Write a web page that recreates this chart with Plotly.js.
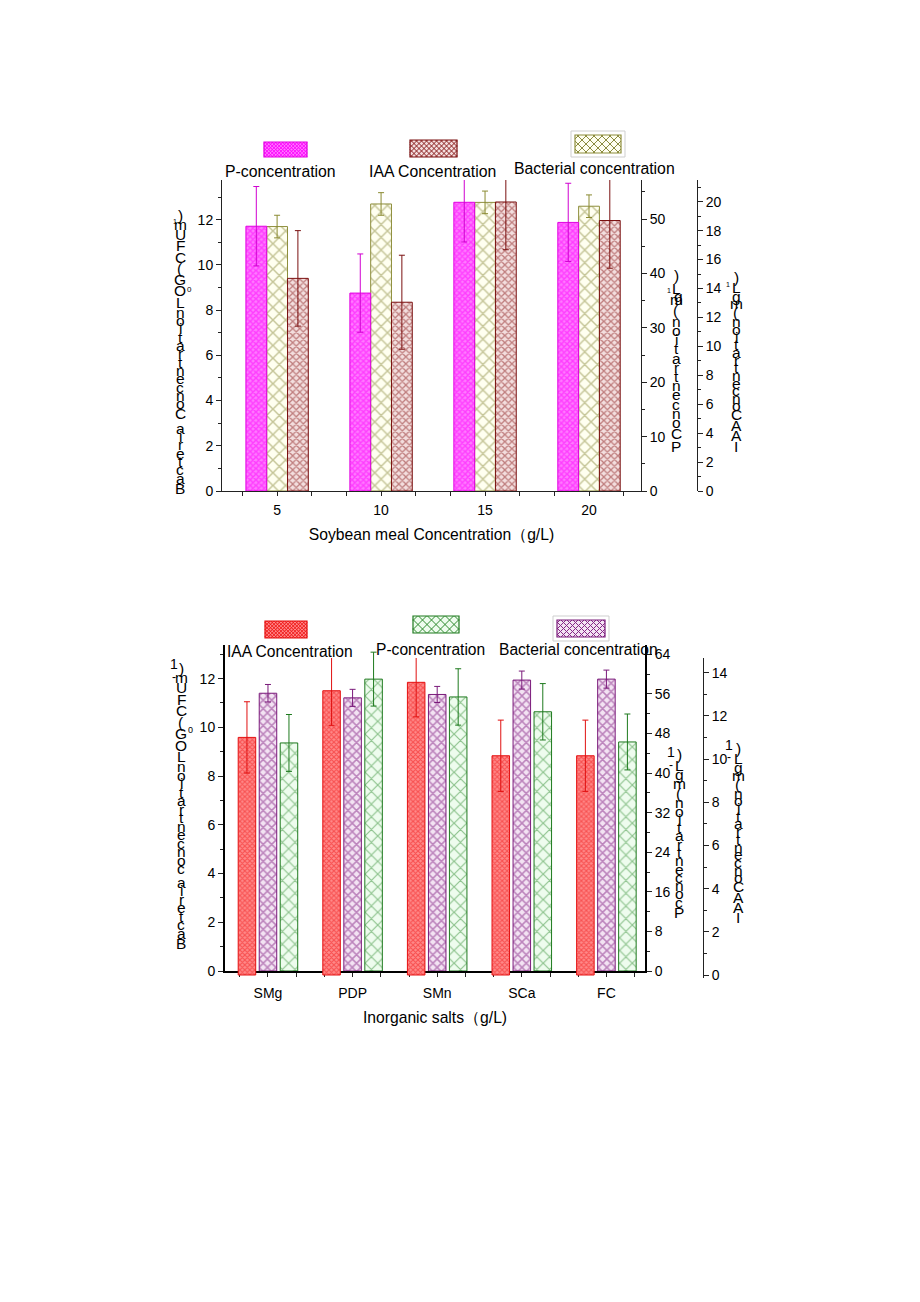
<!DOCTYPE html>
<html><head><meta charset="utf-8">
<script src="https://cdn.plot.ly/plotly-3.0.1.min.js"></script>
<style>html,body{margin:0;padding:0;background:#fff}</style>
</head><body><div id="chart" style="width:920px;height:1302px"></div>
<script>
// ---------- data: chart 1 (soybean meal) ----------
const soyCategories = ['5', '10', '15', '20'];
const soyP = [48.7, 36.4, 53.1, 49.4];          // P-concentration (mg L-1)
const soyPErr = [7.3, 7.2, 7.3, 7.2];
const soyBact = [11.7, 12.7, 12.77, 12.6];      // Bacterial concentration (LOG CFU mL-1)
const soyBactErr = [0.5, 0.5, 0.5, 0.5];
const soyIAA = [14.7, 13.05, 19.98, 18.7];      // IAA Concentration (mg L-1)
const soyIAAErr = [3.3, 3.25, 3.3, 3.3];

// ---------- data: chart 2 (inorganic salts) ----------
const saltCategories = ['SMg', 'PDP', 'SMn', 'SCa', 'FC'];
const saltIAA = [11.0, 13.16, 13.55, 10.15, 10.15];
const saltIAAErr = [1.65, 1.6, 1.6, 1.65, 1.65];
const saltBact = [11.4, 11.21, 11.35, 11.94, 11.98];
const saltBactErr = [0.36, 0.35, 0.33, 0.37, 0.37];
const saltP = [46.1, 59.0, 55.4, 52.4, 46.3];
const saltPErr = [5.75, 5.45, 5.7, 5.7, 5.65];

// legend labels and (stacked, glyph-by-glyph) axis titles as printed
const soyLegend = ['P-concentration', 'IAA Concentration', 'Bacterial concentration'];
const saltLegend = ['IAA Concentration', 'P-concentration', 'Bacterial concentration'];
const soyXTitle = 'Soybean meal Concentration（g/L)';
const saltXTitle = 'Inorganic salts（g/L)';
const bactTitle1 = 'Bacteria ConcentrationLOG(CFUm)';
const bactTitle2 = 'Bacteria concentrationLOG(CFUm)';
const pTitle1 = 'PConcentration(mL)';
const pTitle2 = 'Pconcentration(mgL)';
const iaaTitle = 'IAAConcentration(mgL)';

// ---------- helpers ----------
const W = 920, H = 1302;
const px = x => x / W;
const py = y => 1 - y / H;
const FONT = 'Liberation Sans, Arial, sans-serif';

const idx1 = soyCategories.map((_, i) => i);
const idx2 = saltCategories.map((_, i) => i);

const styles = {
  pink:   {line: '#e000e0', bg: '#ff7aff', fg: '#ff00ff', size: 4, sol: 0.6, err: '#d000d0'},
  khaki:  {line: '#8e8e3c', bg: '#fffff0', fg: '#8c8c40', size: 9, sol: 0.3, err: '#8a8a30'},
  brown:  {line: '#7a1010', bg: '#f3dede', fg: '#8b1e1e', size: 5, sol: 0.45, err: '#7a1010'},
  red:    {line: '#e41010', bg: '#ff8a8a', fg: '#f01818', size: 3.5, sol: 0.55, err: '#e01010'},
  purple: {line: '#7a1a7a', bg: '#f3e3f3', fg: '#862686', size: 6, sol: 0.45, err: '#7a1a7a'},
  green:  {line: '#1e7a1e', bg: '#eefcee', fg: '#2e8b2e', size: 9, sol: 0.25, err: '#1e7a1e'}
};

function barTrace(name, xs, ys, errs, st, xa, ya, width, offset) {
  return {
    type: 'bar', name: name, x: xs, y: ys, xaxis: xa, yaxis: ya,
    width: width, offset: offset, showlegend: false,
    marker: {color: st.bg, line: {color: st.line, width: 1},
      pattern: {shape: 'x', fgcolor: st.fg, bgcolor: st.bg, size: st.size, solidity: st.sol, fillmode: 'overlay'}},
    error_y: {type: 'data', array: errs, visible: true, color: st.err, thickness: 1, width: 3}
  };
}

const data = [
  barTrace(soyLegend[0], idx1, soyP, soyPErr, styles.pink, 'x', 'y2', 0.2, -0.3),
  barTrace(soyLegend[2], idx1, soyBact, soyBactErr, styles.khaki, 'x', 'y', 0.2, -0.1),
  barTrace(soyLegend[1], idx1, soyIAA, soyIAAErr, styles.brown, 'x', 'y3', 0.2, 0.1),
  barTrace(saltLegend[0], idx2, saltIAA, saltIAAErr, styles.red, 'x3', 'y6', 0.207, -0.352),
  barTrace(saltLegend[2], idx2, saltBact, saltBactErr, styles.purple, 'x2', 'y4', 0.207, -0.1035),
  barTrace(saltLegend[1], idx2, saltP, saltPErr, styles.green, 'x2', 'y5', 0.207, 0.1445)
];

const tickfont = {family: FONT, size: 14, color: '#000'};
const titlefont = {family: FONT, size: 15.7, color: '#000'};

function yAx(o) {
  return Object.assign({
    showgrid: false, zeroline: false, showline: true, linecolor: '#222', linewidth: 1,
    ticks: 'outside', ticklen: 5, tickwidth: 1, tickcolor: '#222', tickfont: tickfont,
    tickmode: 'linear', tick0: 0, fixedrange: true,
  }, o);
}
function xAx(o) {
  return Object.assign({
    showgrid: false, zeroline: false, showline: true, linecolor: '#222', linewidth: 1,
    ticks: 'outside', ticklen: 4, tickwidth: 1, tickcolor: '#222', tickfont: tickfont,
    tickmode: 'array', fixedrange: true,
    minor: {tickmode: 'linear', tick0: 0, dtick: 1 / 3, ticks: 'outside', ticklen: 4, tickcolor: '#222', tickwidth: 1, showgrid: false}
  }, o);
}

const layout = {
  width: W, height: H, margin: {l: 0, r: 0, t: 0, b: 0},
  paper_bgcolor: '#fff', plot_bgcolor: 'rgba(0,0,0,0)',
  barmode: 'overlay', showlegend: false, font: {family: FONT, color: '#000'},
  // chart 1
  xaxis: xAx({domain: [px(222), px(641)], range: [-0.53, 3.5], anchor: 'y',
    tickvals: idx1, ticktext: soyCategories, ticklabelstandoff: 2,
    title: {text: soyXTitle, font: titlefont, standoff: 12}}),
  yaxis: yAx({domain: [py(491), py(180)], range: [0, 13.76], dtick: 2, anchor: 'x',
    minor: {dtick: 1, ticks: 'outside', ticklen: 3, tickcolor: '#222'}}),
  yaxis2: yAx({overlaying: 'y', side: 'right', anchor: 'x', range: [0, 57.2], dtick: 10,
    minor: {dtick: 5, ticks: 'outside', ticklen: 3, tickcolor: '#222'}}),
  yaxis3: yAx({overlaying: 'y', side: 'right', anchor: 'free', position: px(697), range: [0, 21.5], dtick: 2,
    minor: {dtick: 1, ticks: 'outside', ticklen: 3, tickcolor: '#222'}}),
  // chart 2
  xaxis2: xAx({domain: [px(225), px(645)], range: [-0.508, 4.456], anchor: 'y4',
    tickvals: idx2, ticktext: saltCategories, linecolor: '#000', linewidth: 2, ticklabelstandoff: 4,
    title: {text: saltXTitle, font: titlefont, standoff: 12}}),
  yaxis4: yAx({domain: [py(971), py(645)], range: [0, 13.38], dtick: 2, anchor: 'x2',
    linecolor: '#000', linewidth: 2,
    minor: {dtick: 1, ticks: 'outside', ticklen: 3, tickcolor: '#222'}}),
  yaxis5: yAx({overlaying: 'y4', side: 'right', anchor: 'x2', range: [0, 65.9], dtick: 8,
    linecolor: '#000', linewidth: 2,
    minor: {dtick: 4, ticks: 'outside', ticklen: 3, tickcolor: '#222'}}),
  xaxis3: {domain: [px(225), px(645)], range: [-0.508, 4.456], anchor: 'y6', visible: false, fixedrange: true},
  yaxis6: yAx({domain: [py(978), py(658)], range: [-3 / 21.6, (975 - 658) / 21.6], dtick: 2,
    anchor: 'free', position: px(703), side: 'right',
    minor: {dtick: 1, ticks: 'outside', ticklen: 3, tickcolor: '#222'}}),
  shapes: [], annotations: []
};

// ---------- legend (swatch above label) ----------
function hatchPath(x0, y0, x1, y1, s) {
  let d = '';
  for (let c = x0 - y1 + s / 2; c < x1 - y0; c += s) {
    const xa = Math.max(x0, y0 + c), xb = Math.min(x1, y1 + c);
    if (xb > xa) d += `M${px(xa)},${py(xa - c)}L${px(xb)},${py(xb - c)}`;
  }
  for (let c = x0 + y0 + s / 2; c < x1 + y1; c += s) {
    const xa = Math.max(x0, c - y1), xb = Math.min(x1, c - y0);
    if (xb > xa) d += `M${px(xa)},${py(c - xa)}L${px(xb)},${py(c - xb)}`;
  }
  return d;
}
function swatch(st, x0, y0, x1, y1, spacing, boxed) {
  if (boxed) layout.shapes.push({type: 'rect', xref: 'paper', yref: 'paper',
    x0: px(x0 - 4), x1: px(x1 + 4), y0: py(y1 + 4), y1: py(y0 - 4), line: {color: '#cfcfcf', width: 1}, fillcolor: '#fff'});
  layout.shapes.push({type: 'rect', xref: 'paper', yref: 'paper', x0: px(x0), x1: px(x1), y0: py(y1), y1: py(y0),
    fillcolor: st.bg, line: {width: 0}});
  layout.shapes.push({type: 'path', xref: 'paper', yref: 'paper', path: hatchPath(x0, y0, x1, y1, spacing),
    line: {color: st.fg, width: 1}});
  layout.shapes.push({type: 'rect', xref: 'paper', yref: 'paper', x0: px(x0), x1: px(x1), y0: py(y1), y1: py(y0),
    fillcolor: 'rgba(0,0,0,0)', line: {color: st.line, width: 1.2}});
}
function label(text, x, y, size, opts) {
  layout.annotations.push(Object.assign({text: text, xref: 'paper', yref: 'paper', x: px(x), y: py(y),
    xanchor: 'center', yanchor: 'middle', showarrow: false, font: {family: FONT, size: size, color: '#000'}}, opts || {}));
}

swatch(styles.pink, 264, 142, 307, 157, 3.5, false);
swatch(styles.brown, 410, 140, 457, 157, 5, false);
swatch(styles.khaki, 575, 135, 621, 153, 8, true);
label(soyLegend[0], 280, 172, 15.8);
label(soyLegend[1], 432, 172, 15.8);
label(soyLegend[2], 594, 168, 15.8);

swatch(styles.red, 265, 621, 307, 638, 3.5, false);
swatch(styles.green, 413, 616, 459, 633, 9, false);
swatch(styles.purple, 557, 620, 605, 637, 6, true);
label(saltLegend[0], 290, 651, 15.6);
label(saltLegend[1], 430, 649, 15.6);
label(saltLegend[2], 578, 649, 15.6);

// ---------- stacked vertical axis titles (glyphs upright, read bottom to top) ----------
function stacked(title, x, yTop, yBot, size) {
  const chars = title.split('').reverse();
  const w = chars.map(c => c === ' ' ? 0.5 : (/[a-z]/.test(c) ? 0.85 : 1.15));
  const centers = [];
  let acc = 0;
  w.forEach(v => { centers.push(acc + v / 2); acc += v; });
  const c0 = centers[0], c1 = centers[centers.length - 1];
  chars.forEach((ch, i) => {
    if (ch === ' ') return;
    const y = yTop + (centers[i] - c0) / (c1 - c0) * (yBot - yTop);
    label(ch, x, y, size);
  });
}
stacked(bactTitle1, 180, 215, 488, 15.5);
label('1', 175, 221, 7); label('0', 189, 289, 8);
stacked(pTitle1, 676, 276, 446, 15.5);
label('1', 669, 291, 7); label('g', 678, 297, 15.5);
stacked(iaaTitle, 736, 277, 446, 15.5);
label('1', 728, 284, 7);

stacked(bactTitle2, 181, 668, 943, 15.5);
label('1', 174, 664, 14); label('-', 174, 677, 12); label('0', 190, 730, 9);
stacked(pTitle2, 679, 754, 912, 15.5);
label('1', 671, 752, 14); label('-', 671, 765, 12);
stacked(iaaTitle, 738, 748, 918, 15.5);
label('1', 729, 745, 14); label('-', 729, 757, 12);

Plotly.newPlot('chart', data, layout, {displayModeBar: false, staticPlot: true});
</script>
</body></html>
